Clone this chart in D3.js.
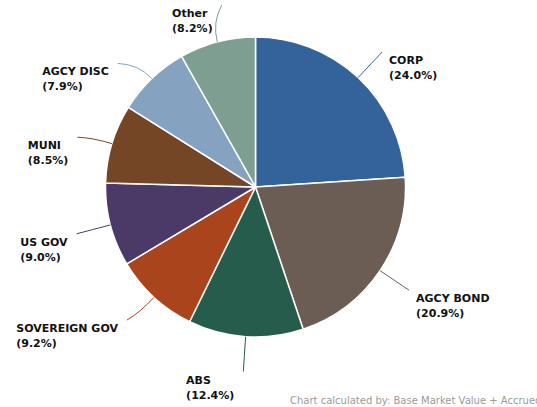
<!DOCTYPE html>
<html>
<head>
<meta charset="utf-8">
<script src="https://cdn.jsdelivr.net/npm/d3@7/dist/d3.min.js"></script>
<style>
  html, body { margin: 0; padding: 0; background: #fff; overflow: hidden; }
  svg { display: block; }
</style>
</head>
<body>
<svg id="chart" width="537" height="407"></svg>
<script>
// Sector allocation, clockwise from 12 o'clock
const categories = ["CORP", "AGCY BOND", "ABS", "SOVEREIGN GOV", "US GOV", "MUNI", "AGCY DISC", "Other"];
const shares = [24.0, 20.9, 12.4, 9.2, 9.0, 8.5, 7.9, 8.2];
const colors = ["#33639a", "#6b5d54", "#265c4b", "#a9441d", "#4b3a67", "#754626", "#86a2c1", "#7e9e92"];
const footnote = "Chart calculated by: Base Market Value + Accrued Interest";

const width = 537, height = 407;
const cx = 255.5, cy = 187, radius = 150;

// small angular shifts (degrees) for label anchors so neighbouring labels breathe
const labelSpread = { "SOVEREIGN GOV": 1.4, "MUNI": -1.2, "AGCY DISC": -4.4, "Other": 4.2 };

const svg = d3.select("#chart");
const g = svg.append("g").attr("transform", `translate(${cx},${cy})`);

const data = categories.map((c, i) => ({ name: c, value: shares[i], color: colors[i] }));

const pie = d3.pie().value(d => d.value).sort(null);
const arcs = pie(data);
const arc = d3.arc().innerRadius(0).outerRadius(radius);

g.selectAll("path.slice")
  .data(arcs)
  .join("path")
  .attr("class", "slice")
  .attr("d", arc)
  .attr("fill", d => d.data.color)
  .attr("stroke", "#fff")
  .attr("stroke-width", 1.5)
  .attr("stroke-linejoin", "round");

// point at radius r along the angle (0 = up, clockwise)
const polar = (a, r) => [r * Math.sin(a), -r * Math.cos(a)];

const labels = g.selectAll("g.label")
  .data(arcs)
  .join("g")
  .attr("class", "label");

labels.each(function(d) {
  const sel = d3.select(this);
  const mid = (d.startAngle + d.endAngle) / 2;
  const lab = mid + (labelSpread[d.data.name] || 0) * Math.PI / 180;
  const p0 = polar(mid, radius);
  const p1 = polar(mid, radius + 20);
  const p2 = polar(lab, radius + 35);

  sel.append("path")
    .attr("d", `M${p0[0]},${p0[1]}Q${p1[0]},${p1[1]} ${p2[0]},${p2[1]}`)
    .attr("fill", "none")
    .attr("stroke", d.data.color)
    .attr("stroke-width", 1);

  const t = sel.append("text")
    .attr("font-family", "'DejaVu Sans', Verdana, sans-serif")
    .attr("font-weight", "bold")
    .attr("font-size", 11)
    .attr("fill", "#111");
  t.append("tspan").text(d.data.name);
  t.append("tspan").text(`(${d.data.value.toFixed(1)}%)`);

  const tspans = t.selectAll("tspan").nodes();
  const w = d3.max(tspans, n => n.getComputedTextLength());
  const right = Math.sin(lab) >= 0;
  const x = right ? p2[0] + 7 : p2[0] - 9 - w;
  const y = p2[1] + 12;
  d3.select(tspans[0]).attr("x", x).attr("y", y);
  d3.select(tspans[1]).attr("x", x).attr("y", y + 15);
});

svg.append("text")
  .attr("x", 290)
  .attr("y", 404)
  .attr("font-family", "'DejaVu Sans', Verdana, sans-serif")
  .attr("font-size", 10)
  .attr("fill", "#9a9a9a")
  .text(footnote);
</script>
</body>
</html>
